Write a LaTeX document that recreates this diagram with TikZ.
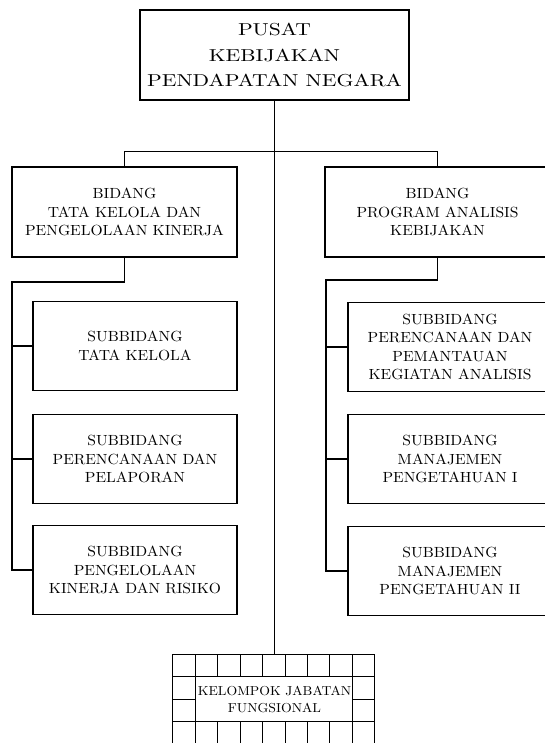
\documentclass[tikz,border=0pt]{standalone}
\usepackage{fontspec}
\setmainfont{lmroman10-regular}[Extension=.otf, FakeStretch=1.06]
\newfontfamily\pusatfont{lmroman10-regular}[Extension=.otf, FakeStretch=1.25]
\usetikzlibrary{positioning}

\begin{document}
\begin{tikzpicture}[
    x=1pt, y=-1pt,
    line width=1.2pt,
    box/.style={draw, line width=1.1pt, align=center, inner sep=0pt},
    pusatbox/.style={box, minimum width=269pt, minimum height=90pt, font=\pusatfont\fontsize{17.3}{25.7}\selectfont},
    bidbox/.style={box, minimum width=225pt, minimum height=90pt, font=\fontsize{14.7}{18.5}\selectfont},
    subbox/.style={bidbox, minimum width=204pt, minimum height=89pt},
    jfbox/.style={align=center, inner sep=0pt, minimum width=202pt, minimum height=89pt, font=\fontsize{13}{16.7}\selectfont}
]
    \useasboundingbox (0,0) rectangle (544,743);

    \node[pusatbox] (P) at (274.5,55) {PUSAT\\KEBIJAKAN\\PENDAPATAN NEGARA};

    \node[bidbox] (B1) at (124.5,212) {BIDANG\\TATA KELOLA DAN\\PENGELOLAAN KINERJA};
    \node[bidbox] (B2) at (437.5,212) {BIDANG\\PROGRAM ANALISIS\\KEBIJAKAN};

    \node[subbox] (S11) at (135,346) {SUBBIDANG\\TATA KELOLA};
    \node[subbox] (S12) at (135,459) {SUBBIDANG\\PERENCANAAN DAN\\PELAPORAN};
    \node[subbox] (S13) at (135,570) {SUBBIDANG\\PENGELOLAAN\\KINERJA DAN RISIKO};

    \node[subbox] (S21) at (450,347) {SUBBIDANG\\PERENCANAAN DAN\\PEMANTAUAN\\KEGIATAN ANALISIS};
    \node[subbox] (S22) at (450,459) {SUBBIDANG\\MANAJEMEN\\PENGETAHUAN I};
    \node[subbox] (S23) at (450,571) {SUBBIDANG\\MANAJEMEN\\PENGETAHUAN II};

    \node[jfbox] (J) at (274.5,699.5) {KELOMPOK JABATAN\\FUNGSIONAL};

    % grid round the functional group
    \begin{scope}[shift={(J.north west)}, line width=1pt]
        \foreach \i in {0,1,8,9} \draw (\i*22.44,0) -- (\i*22.44,89);
        \foreach \i in {2,...,7} {
            \draw (\i*22.44,0) -- (\i*22.44,22.3);
            \draw (\i*22.44,67) -- (\i*22.44,89);
        }
        \foreach \j in {0,22.3,67} \draw (0,\j) -- (202,\j);
        \draw (0,44.6) -- (22.44,44.6) (179.5,44.6) -- (202,44.6);
    \end{scope}

    \coordinate (L1) at (12,282);
    \coordinate (L2) at (326,280);

    \draw (P) -- (J);
    \draw (B1.north) -- ++(0,-15) -| (B2.north);

    \draw (B1.south) |- (L1) |- (S13.west);
    \draw (S11.west) -- (S11.west -| L1);
    \draw (S12.west) -- (S12.west -| L1);

    \draw (B2.south) |- (L2) |- (S23.west);
    \draw (S21.west) -- (S21.west -| L2);
    \draw (S22.west) -- (S22.west -| L2);
\end{tikzpicture}
\end{document}
